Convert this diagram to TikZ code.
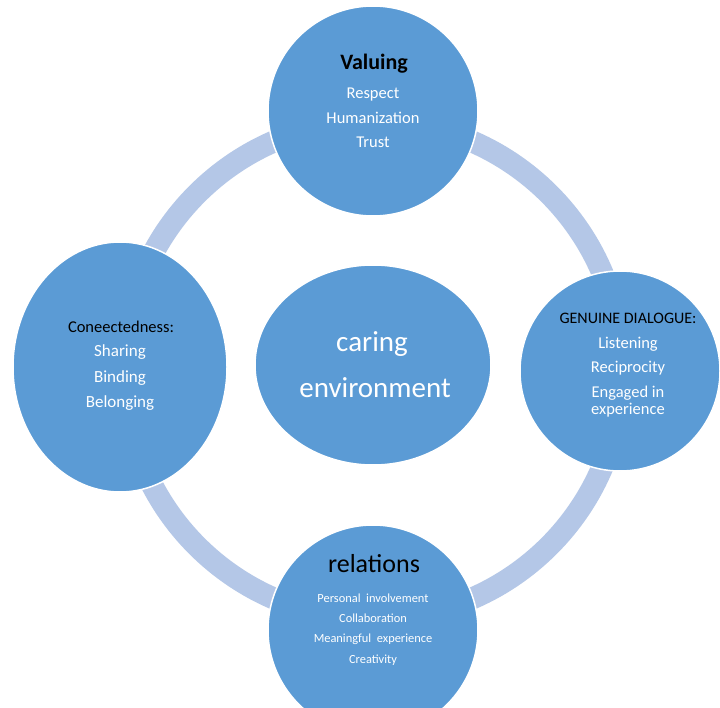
\documentclass[tikz,border=0pt]{standalone}
\usepackage{fontspec}
\setmainfont{Carlito}
\usetikzlibrary{shapes.geometric}
\definecolor{blobc}{HTML}{5B9BD5}
\definecolor{ringc}{HTML}{B4C7E7}
\begin{document}
\begin{tikzpicture}[x=1pt,y=-1pt,
  blob/.style={draw=white, line width=1.5pt, fill=blobc, inner sep=0pt},
  itemtxt/.style={text=white, anchor=base, inner sep=0pt},
  headtxt/.style={text=black, anchor=base, inner sep=0pt}]
\useasboundingbox (0,0) rectangle (720,708);
\clip (0,0) rectangle (720,708);
\fill[white] (0,0) rectangle (720,708);
\coordinate (rc) at (373,370);
\draw[ringc, line width=22pt] (rc) circle[radius=249pt];
% circles
\node[blob, circle, minimum size=210pt] (top) at (373,111) {};
\node[blob, circle, minimum size=200pt] (right) at (620,371) {};
\node[blob, circle, minimum size=210pt] (bottom) at (373,630) {};
\node[blob, ellipse, minimum width=214pt, minimum height=250pt] (left) at (120,367) {};
\node[blob, ellipse, minimum width=236pt, minimum height=200pt] (center) at (373,365) {};
% top texts
\node[headtxt, font=\fontsize{22}{26}\selectfont\bfseries] (t0) at (374,70) {Valuing};
\node[itemtxt, font=\fontsize{16.5}{18}\selectfont] (t1) at (373,99) {Respect};
\node[itemtxt, font=\fontsize{16.5}{18}\selectfont] (t2) at (373,124) {Humanization};
\node[itemtxt, font=\fontsize{16.5}{18}\selectfont] (t3) at (373,148) {Trust};
% right texts
\node[headtxt, font=\fontsize{16}{18}\selectfont] (r0) at (628,324) {GENUINE DIALOGUE:};
\node[itemtxt, font=\fontsize{16.5}{18}\selectfont] (r1) at (628,349) {Listening};
\node[itemtxt, font=\fontsize{16.5}{18}\selectfont] (r2) at (628,373) {Reciprocity};
\node[itemtxt, font=\fontsize{16.5}{18}\selectfont] (r3) at (628,398) {Engaged in};
\node[itemtxt, font=\fontsize{16.5}{18}\selectfont] (r4) at (628,414) {experience};
% bottom texts
\node[headtxt, font=\fontsize{26}{30}\selectfont] (b0) at (374,572) {relations};
\node[itemtxt, font=\fontsize{12.4}{14}\selectfont] (b1) at (373,602) {Personal\ \ involvement};
\node[itemtxt, font=\fontsize{12.4}{14}\selectfont] (b2) at (373,622) {Collaboration};
\node[itemtxt, font=\fontsize{12.4}{14}\selectfont] (b3) at (373,642) {Meaningful\ \ experience};
\node[itemtxt, font=\fontsize{12.4}{14}\selectfont] (b4) at (373,663) {Creativity};
% left texts
\node[headtxt, font=\fontsize{16.5}{19}\selectfont] (l0) at (121,333) {Coneectedness:};
\node[itemtxt, font=\fontsize{17}{19}\selectfont] (l1) at (120,357) {Sharing};
\node[itemtxt, font=\fontsize{17}{19}\selectfont] (l2) at (120,383) {Binding};
\node[itemtxt, font=\fontsize{17}{19}\selectfont] (l3) at (120,407) {Belonging};
% center texts
\node[itemtxt, font=\fontsize{29}{32}\selectfont] (c1) at (372,352) {caring};
\node[itemtxt, font=\fontsize{29}{32}\selectfont] (c2) at (375,397) {environment};
\end{tikzpicture}
\end{document}
